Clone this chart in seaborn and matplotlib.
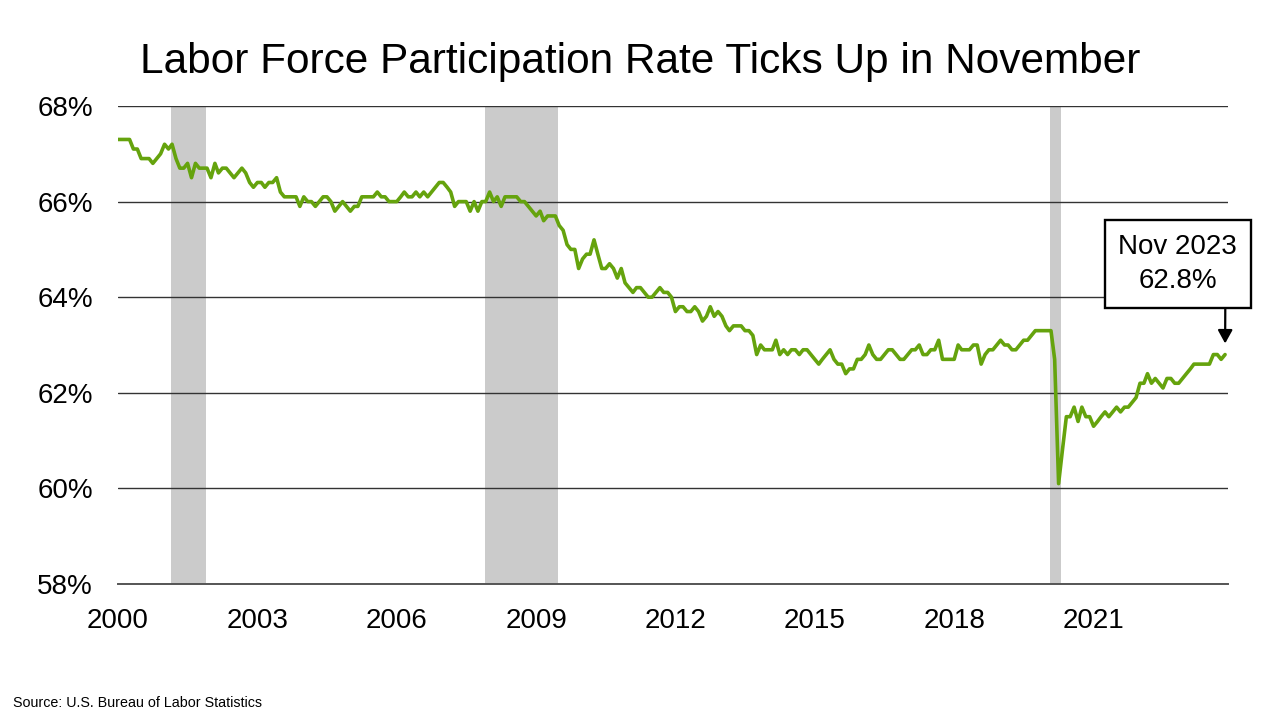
import pandas as pd
import matplotlib.pyplot as plt
import matplotlib.dates as mdates
import seaborn as sns

# monthly labor force participation rate (%), Jan 2000 - Nov 2023
lfpr_2000_2005 = [
    67.3, 67.3, 67.3, 67.3, 67.1, 67.1, 66.9, 66.9, 66.9, 66.8, 66.9, 67.0,
    67.2, 67.1, 67.2, 66.9, 66.7, 66.7, 66.8, 66.5, 66.8, 66.7, 66.7, 66.7,
    66.5, 66.8, 66.6, 66.7, 66.7, 66.6, 66.5, 66.6, 66.7, 66.6, 66.4, 66.3,
    66.4, 66.4, 66.3, 66.4, 66.4, 66.5, 66.2, 66.1, 66.1, 66.1, 66.1, 65.9,
    66.1, 66.0, 66.0, 65.9, 66.0, 66.1, 66.1, 66.0, 65.8, 65.9, 66.0, 65.9,
    65.8, 65.9, 65.9, 66.1, 66.1, 66.1, 66.1, 66.2, 66.1, 66.1, 66.0, 66.0,
]
lfpr_2006_2011 = [
    66.0, 66.1, 66.2, 66.1, 66.1, 66.2, 66.1, 66.2, 66.1, 66.2, 66.3, 66.4,
    66.4, 66.3, 66.2, 65.9, 66.0, 66.0, 66.0, 65.8, 66.0, 65.8, 66.0, 66.0,
    66.2, 66.0, 66.1, 65.9, 66.1, 66.1, 66.1, 66.1, 66.0, 66.0, 65.9, 65.8,
    65.7, 65.8, 65.6, 65.7, 65.7, 65.7, 65.5, 65.4, 65.1, 65.0, 65.0, 64.6,
    64.8, 64.9, 64.9, 65.2, 64.9, 64.6, 64.6, 64.7, 64.6, 64.4, 64.6, 64.3,
    64.2, 64.1, 64.2, 64.2, 64.1, 64.0, 64.0, 64.1, 64.2, 64.1, 64.1, 64.0,
]
lfpr_2012_2017 = [
    63.7, 63.8, 63.8, 63.7, 63.7, 63.8, 63.7, 63.5, 63.6, 63.8, 63.6, 63.7,
    63.6, 63.4, 63.3, 63.4, 63.4, 63.4, 63.3, 63.3, 63.2, 62.8, 63.0, 62.9,
    62.9, 62.9, 63.1, 62.8, 62.9, 62.8, 62.9, 62.9, 62.8, 62.9, 62.9, 62.8,
    62.7, 62.6, 62.7, 62.8, 62.9, 62.7, 62.6, 62.6, 62.4, 62.5, 62.5, 62.7,
    62.7, 62.8, 63.0, 62.8, 62.7, 62.7, 62.8, 62.9, 62.9, 62.8, 62.7, 62.7,
    62.8, 62.9, 62.9, 63.0, 62.8, 62.8, 62.9, 62.9, 63.1, 62.7, 62.7, 62.7,
]
lfpr_2018_2023 = [
    62.7, 63.0, 62.9, 62.9, 62.9, 63.0, 63.0, 62.6, 62.8, 62.9, 62.9, 63.0,
    63.1, 63.0, 63.0, 62.9, 62.9, 63.0, 63.1, 63.1, 63.2, 63.3, 63.3, 63.3,
    63.3, 63.3, 62.7, 60.1, 60.8, 61.5, 61.5, 61.7, 61.4, 61.7, 61.5, 61.5,
    61.3, 61.4, 61.5, 61.6, 61.5, 61.6, 61.7, 61.6, 61.7, 61.7, 61.8, 61.9,
    62.2, 62.2, 62.4, 62.2, 62.3, 62.2, 62.1, 62.3, 62.3, 62.2, 62.2, 62.3,
    62.4, 62.5, 62.6, 62.6, 62.6, 62.6, 62.6, 62.8, 62.8, 62.7, 62.8,
]

# NBER recessions (first and last month)
rec_start = ["2001-03", "2007-12", "2020-02"]
rec_end = ["2001-11", "2009-06", "2020-04"]

tick_years = [2000, 2003, 2006, 2009, 2012, 2015, 2018, 2021]
y_ticks = [58, 60, 62, 64, 66, 68]

rate = lfpr_2000_2005 + lfpr_2006_2011 + lfpr_2012_2017 + lfpr_2018_2023
df = pd.DataFrame({
    "date": pd.date_range("2000-01-01", periods=len(rate), freq="MS"),
    "rate": rate,
})

sns.set_theme(style="white")
plt.rcParams["font.family"] = ["Liberation Sans", "DejaVu Sans"]

fig = plt.figure(figsize=(12.8, 7.2), dpi=100)
ax = fig.add_axes([118 / 1280, 1 - 584 / 720, 1110 / 1280, 478 / 720])

for s, e in zip(rec_start, rec_end):
    ax.axvspan(pd.Timestamp(s) - pd.Timedelta(days=7),
               pd.Timestamp(e) + pd.Timedelta(days=20),
               color="#cbcbcb", lw=0, zorder=1)

sns.lineplot(data=df, x="date", y="rate", ax=ax, color="#65A30D",
             lw=2.6, zorder=3)

ax.set_ylim(58, 68)
ax.set_xlim(pd.Timestamp("2000-01-01"), pd.Timestamp("2023-11-24"))
ax.set_yticks(y_ticks)
ax.set_yticklabels([f"{v}%" for v in y_ticks])
ax.set_xticks([pd.Timestamp(f"{y}-01-01") for y in tick_years])
ax.xaxis.set_major_formatter(mdates.DateFormatter("%Y"))
ax.tick_params(axis="y", length=0, pad=18, labelsize=20, colors="black")
ax.tick_params(axis="x", length=0, pad=17, labelsize=20, colors="black")
ax.set_xlabel("")
ax.set_ylabel("")

ax.set_axisbelow("line")
ax.grid(axis="y", color="#333333", lw=1.0)
ax.grid(axis="x", visible=False)
for side in ["top", "right", "left"]:
    ax.spines[side].set_visible(False)
ax.spines["bottom"].set_color("#555555")
ax.spines["bottom"].set_linewidth(1.4)

last = df.iloc[-1]
ax.annotate(f"Nov 2023\n{last['rate']:.1f}%",
            xy=(last["date"], last["rate"]), xycoords="data",
            xytext=(-34, 65), textcoords="offset points",
            ha="center", va="center", fontsize=20, linespacing=1.4,
            color="black",
            bbox=dict(boxstyle="square,pad=0.5", fc="white", ec="black", lw=1.7),
            arrowprops=dict(arrowstyle="-|>,head_length=0.4,head_width=0.22",
                            color="black", lw=1.6, relpos=(0.9, 0),
                            shrinkA=0, shrinkB=8),
            zorder=5)

fig.text(0.5, 1 - 73 / 720, "Labor Force Participation Rate Ticks Up in November",
         ha="center", va="baseline", fontsize=30.5, color="black")
fig.text(13 / 1280, 1 - 707 / 720, "Source: U.S. Bureau of Labor Statistics",
         ha="left", va="baseline", fontsize=10.3, color="black")

fig.savefig("out.png", dpi=100)
